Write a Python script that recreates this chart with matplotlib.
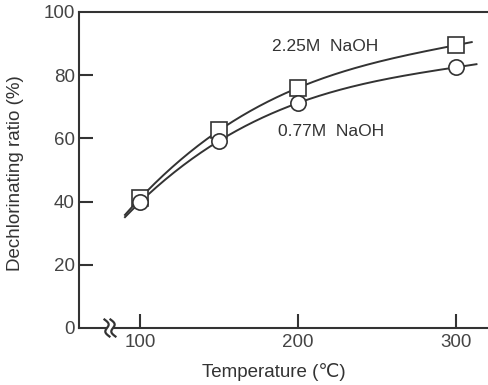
import numpy as np
import matplotlib
matplotlib.use("Agg")
import matplotlib.pyplot as plt
from matplotlib.patches import Polygon

# data
temps = [100, 150, 200, 300]
naoh_225 = [41, 62.5, 76, 89.5]   # squares
naoh_077 = [39.8, 59.2, 71.2, 82.5]   # circles
label_225 = "2.25M  NaOH"
label_077 = "0.77M  NaOH"
xticks = [100, 200, 300]
yticks = [0, 20, 40, 60, 80, 100]

ink = "#333333"
plain = ["Liberation Sans", "DejaVu Sans"]

fig = plt.figure(figsize=(4.88, 3.85), dpi=100)
fig.patch.set_facecolor("white")
ax = fig.add_axes([79 / 488, 1 - 328 / 385, 409 / 488, 316 / 385])
ax.set_xlim(61.4, 320.3)
ax.set_ylim(0, 100)

# fitted curves through the measured points
for y, x_end in [(naoh_225, 310), (naoh_077, 313)]:
    coef = np.polyfit(temps, y, 3)
    xs = np.linspace(90.5, x_end, 200)
    ax.plot(xs, np.polyval(coef, xs), color=ink, lw=1.4, zorder=3)

ax.plot(temps, naoh_225, ls="none", marker="s", ms=11, mfc="white", mec=ink, mew=1.2, zorder=4)
ax.plot(temps, naoh_077, ls="none", marker="o", ms=11, mfc="white", mec=ink, mew=1.2, zorder=4)

ax.text(183.5, 89.2, label_225, fontsize=12.5, family=plain, color=ink, va="center", ha="left")
ax.text(187.3, 62.3, label_077, fontsize=12.5, family=plain, color=ink, va="center", ha="left")

for side in ["left", "bottom", "top"]:
    ax.spines[side].set_linewidth(1.5)
    ax.spines[side].set_color(ink)
ax.spines["right"].set_visible(False)

ax.set_xticks(xticks)
ax.set_yticks(yticks)
ax.tick_params(axis="both", direction="in", length=10, width=1.5, color=ink,
               labelsize=13.5, labelcolor="#444444")
ax.tick_params(axis="y", pad=3)
ax.tick_params(axis="x", pad=4)
ax.tick_params(axis="y", which="both", right=False)
for lab in ax.get_xticklabels() + ax.get_yticklabels():
    lab.set_family(plain)
# no tick marks drawn at 0 and 100 (spines are there)
ax.yaxis.get_major_ticks()[0].tick1line.set_visible(False)
ax.yaxis.get_major_ticks()[-1].tick1line.set_visible(False)

ax.set_xlabel("Temperature (\u2103)", fontsize=13.5, family=plain, color=ink, va="center")
ax.xaxis.set_label_coords((274 - 79) / 409, -44 / 316)
ax.set_ylabel("Dechlorinating ratio (%)", fontsize=13.5, family=plain, color=ink, va="center")
ax.yaxis.set_label_coords(-63 / 409, 0.49)

# axis break on the x axis
px_x = 1.58  # pixels per degree
px_y = 3.16  # pixels per percent
xb = 100 + (110 - 140) / px_x
t = np.linspace(-1, 1, 40)
curves = []
for dx in (-3.0, 3.0):
    cx = xb + (dx + 2.8 * np.sin(np.pi * t) - 2.5 * t) / px_x
    cy = (8.5 * t) / px_y
    curves.append((cx, cy))
poly = np.vstack([np.column_stack(curves[0]), np.column_stack(curves[1])[::-1]])
ax.add_patch(Polygon(poly, closed=True, facecolor="white", edgecolor="none", zorder=5, clip_on=False))
for cx, cy in curves:
    ax.plot(cx, cy, color=ink, lw=1.6, zorder=6, clip_on=False)

fig.savefig("out.png", dpi=100, facecolor="white")
